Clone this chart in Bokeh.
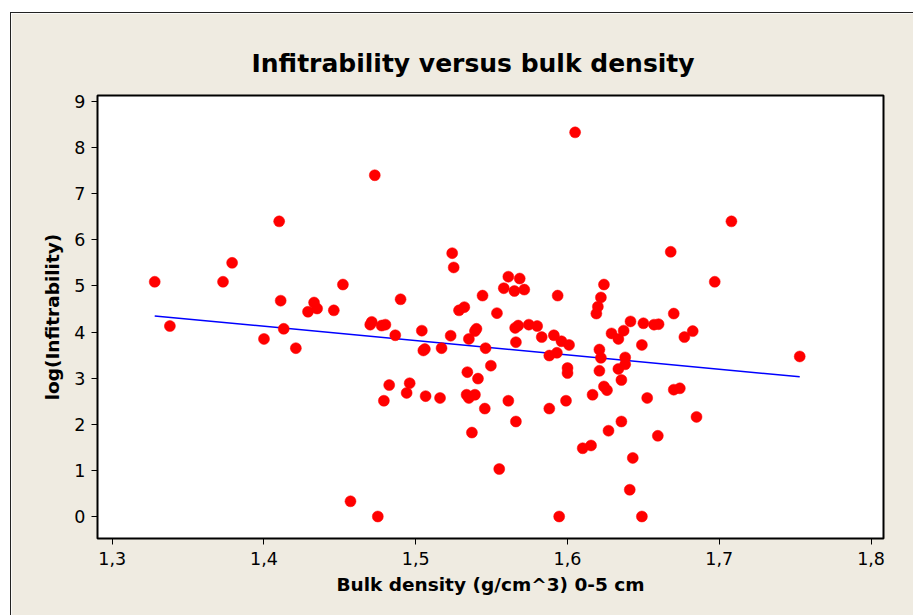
from bokeh.plotting import figure
from bokeh.models import FixedTicker, CustomJSTickFormatter, Range1d, ColumnDataSource
from bokeh.embed import file_html
from bokeh.resources import INLINE

# Bulk density (g/cm^3) 0-5 cm
bulk_density = [
    1.328, 1.338, 1.373, 1.379, 1.410, 1.411, 1.413, 1.400, 1.421, 1.433,
    1.429, 1.435, 1.446, 1.452, 1.457, 1.473, 1.471, 1.470, 1.4775, 1.480,
    1.475, 1.490, 1.4865, 1.504, 1.506, 1.505, 1.517, 1.523, 1.524, 1.525,
    1.5285, 1.532, 1.535, 1.539, 1.540, 1.546, 1.544, 1.5535, 1.561, 1.5685,
    1.558, 1.565, 1.5715, 1.5655, 1.5675, 1.5745, 1.580, 1.566, 1.583, 1.591,
    1.5935, 1.596, 1.601, 1.588, 1.593, 1.600, 1.600, 1.605, 1.624, 1.622,
    1.620, 1.619, 1.621, 1.622, 1.621, 1.629, 1.6335, 1.637, 1.6415, 1.650,
    1.657, 1.660, 1.638, 1.638, 1.6335, 1.6355, 1.649, 1.670, 1.668, 1.697,
    1.708, 1.677, 1.6825, 1.753, 1.534, 1.541, 1.5495, 1.4825, 1.496, 1.494,
    1.479, 1.5065, 1.516, 1.5335, 1.535, 1.539, 1.5455, 1.561, 1.566, 1.588,
    1.599, 1.6165, 1.624, 1.626, 1.537, 1.555, 1.610, 1.6155, 1.627, 1.6355,
    1.643, 1.641, 1.5945, 1.649, 1.6525, 1.670, 1.674, 1.685, 1.6595,
]

# log(Infitrability)
log_infiltrability = [
    5.09, 4.13, 5.09, 5.50, 6.40, 4.68, 4.07, 3.85, 3.65, 4.64,
    4.44, 4.51, 4.47, 5.03, 0.33, 7.40, 4.22, 4.16, 4.14, 4.16,
    0.00, 4.71, 3.93, 4.03, 3.63, 3.60, 3.65, 3.92, 5.71, 5.40,
    4.47, 4.54, 3.85, 4.02, 4.07, 3.65, 4.79, 4.41, 5.20, 5.16,
    4.95, 4.89, 4.92, 4.09, 4.14, 4.16, 4.13, 3.78, 3.89, 3.93,
    4.79, 3.80, 3.72, 3.49, 3.55, 3.22, 3.11, 8.33, 5.03, 4.75,
    4.55, 4.40, 3.62, 3.44, 3.16, 3.97, 3.85, 4.03, 4.23, 4.19,
    4.16, 4.17, 3.45, 3.30, 3.20, 2.96, 3.72, 4.40, 5.74, 5.09,
    6.40, 3.89, 4.02, 3.47, 3.13, 2.99, 3.27, 2.85, 2.89, 2.68,
    2.51, 2.61, 2.57, 2.64, 2.57, 2.64, 2.34, 2.51, 2.06, 2.34,
    2.51, 2.64, 2.82, 2.74, 1.82, 1.03, 1.48, 1.54, 1.86, 2.06,
    1.27, 0.58, 0.00, 0.00, 2.57, 2.75, 2.78, 2.16, 1.75,
]

# Fitted regression line
fit_x = [1.328, 1.753]
fit_y = [4.35, 3.03]

x_ticks = [1.3, 1.4, 1.5, 1.6, 1.7, 1.8]
y_ticks = [0, 1, 2, 3, 4, 5, 6, 7, 8, 9]

BG = "#EFEBE1"

p = figure(
    width=903, height=603,
    output_backend="svg", toolbar_location=None,
    x_range=Range1d(1.2903, 1.8082), y_range=Range1d(-0.477, 9.129),
    min_border_left=86, min_border_right=31, min_border_top=82, min_border_bottom=78,
    title="Infitrability versus bulk density",
)
p.margin = (12, 0, 0, 10)
p.styles = {"border-top": "1px solid #222222", "border-left": "1px solid #222222"}
p.background_fill_color = "white"
p.border_fill_color = BG
p.outline_line_color = "black"
p.outline_line_width = 2
p.grid.visible = False

p.title.align = "left"
p.title.offset = 154
p.title.text_font = "DejaVu Sans"
p.title.text_font_style = "bold"
p.title.text_font_size = "25px"
p.title.text_color = "black"
p.title.standoff = 36

for ax in (p.xaxis[0], p.yaxis[0]):
    ax.axis_line_color = None
    ax.major_tick_line_color = "black"
    ax.major_tick_line_width = 1
    ax.major_tick_out = 6
    ax.major_tick_in = 0
    ax.minor_tick_line_color = None
    ax.major_label_text_font = "DejaVu Sans"
    ax.major_label_text_font_size = "17.5px"
    ax.major_label_text_color = "black"
    ax.axis_label_text_font = "DejaVu Sans"
    ax.axis_label_text_font_style = "bold"
    ax.axis_label_text_font_size = "18.5px"
    ax.axis_label_text_color = "black"

p.xaxis.ticker = FixedTicker(ticks=x_ticks)
p.yaxis.ticker = FixedTicker(ticks=y_ticks)
p.xaxis.formatter = CustomJSTickFormatter(code="return tick.toFixed(1).replace('.', ',');")
p.yaxis.formatter = CustomJSTickFormatter(code="return tick.toFixed(0);")
p.xaxis.axis_label = "Bulk density (g/cm^3) 0-5 cm"
p.yaxis.axis_label = "log(Infitrability)"
p.xaxis.major_label_standoff = 7
p.xaxis.axis_label_standoff = 6
p.yaxis.major_label_standoff = 6
p.yaxis.axis_label_standoff = 8

src = ColumnDataSource(data=dict(x=bulk_density, y=log_infiltrability))
p.line(fit_x, fit_y, line_color="#0000FF", line_width=1.5)
p.scatter("x", "y", source=src, size=11, fill_color="#FF0000", line_color="#FF0000", line_width=0.5)

open("out.html", "w").write(file_html(p, INLINE))
